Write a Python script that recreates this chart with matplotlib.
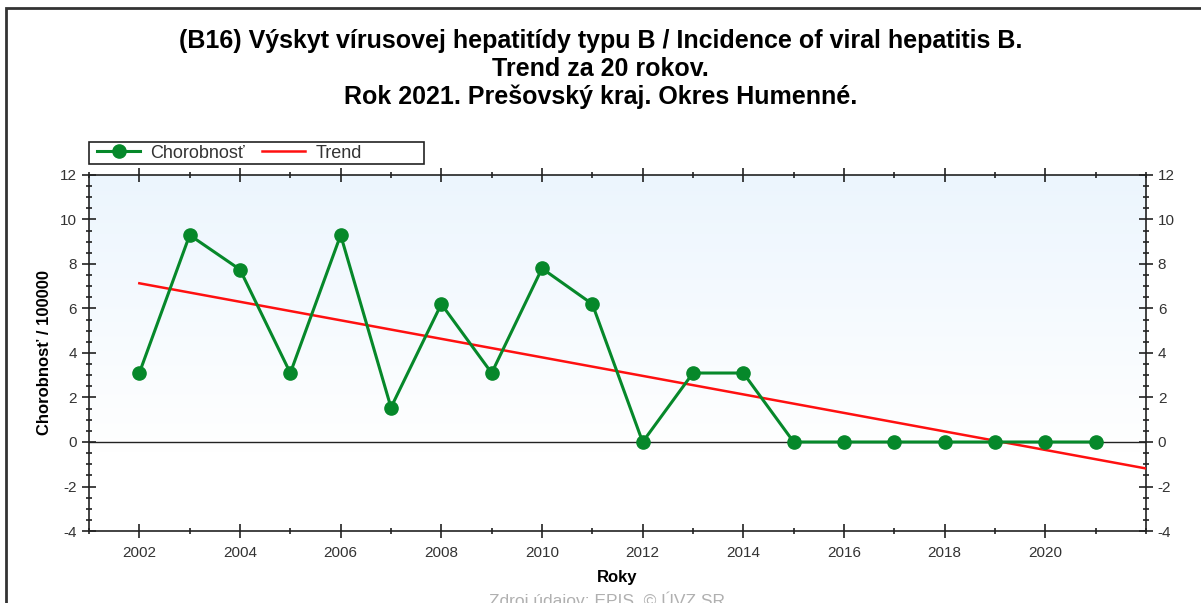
import numpy as np
import matplotlib
matplotlib.use("Agg")
import matplotlib.pyplot as plt
from matplotlib.ticker import MultipleLocator, FixedLocator
from matplotlib.patches import Rectangle

plt.rcParams['font.family'] = ['Liberation Sans', 'DejaVu Sans']
plt.rcParams['axes.unicode_minus'] = False

# data
years = [2002, 2003, 2004, 2005, 2006, 2007, 2008, 2009, 2010, 2011,
         2012, 2013, 2014, 2015, 2016, 2017, 2018, 2019, 2020, 2021]
incidence = [3.1, 9.3, 7.75, 3.1, 9.3, 1.55, 6.2, 3.1, 7.8, 6.2,
             0.0, 3.1, 3.1, 0.0, 0.0, 0.0, 0.0, 0.0, 0.0, 0.0]
trend_years = [2002, 2022]
xtick_years = [2002, 2004, 2006, 2008, 2010, 2012, 2014, 2016, 2018, 2020]

title = ("(B16) Výskyt vírusovej hepatitídy typu B / Incidence of viral hepatitis B.\n"
         "Trend za 20 rokov.\n"
         "Rok 2021. Prešovský kraj. Okres Humenné.")

W, H = 1201, 603
fig = plt.figure(figsize=(W / 100, H / 100), dpi=100)
ax = fig.add_axes([0.0741, 0.1194, 0.8801, 0.5904])

# outer frame
fig.patches.append(Rectangle((0.005, -0.05), 1.2, 1.036, transform=fig.transFigure,
                             fill=False, edgecolor='#333333', linewidth=2))

# background gradient (light blue at top fading to white)
grad = np.ones((256, 1, 4))
t = np.linspace(0, 1, 256)[:, None]
top = np.array([0.925, 0.962, 0.995])
frac = np.clip(t / 0.78, 0, 1)
grad[:, 0, :3] = top[None, :] * (1 - frac) + frac
ax.imshow(grad, extent=[2001, 2022, -4, 12], aspect='auto', zorder=0)

ax.set_xlim(2001, 2022)
ax.set_ylim(-4, 12)

ax.axhline(0, color='#222222', linewidth=1, zorder=1)

# trend (least squares fit of the data)
k, q = np.polyfit(years, incidence, 1)
ty = [k * x + q for x in trend_years]
ax.plot(trend_years, ty, color='#ff1010', linewidth=1.8, zorder=3, label='Trend')

ax.plot(years, incidence, color='#06882a', linewidth=2.2, marker='o', markersize=9.5,
        zorder=4, label='Chorobnosť', clip_on=False)

ax.xaxis.set_major_locator(FixedLocator(xtick_years))
ax.xaxis.set_minor_locator(MultipleLocator(1))
ax.yaxis.set_major_locator(MultipleLocator(2))
ax.yaxis.set_minor_locator(MultipleLocator(0.5))
ax.tick_params(which='major', direction='inout', length=10, width=1.2, colors='#222222',
               labelcolor='#333333', labelsize=11, top=True, right=True, labelright=True)
ax.tick_params(which='minor', direction='inout', length=5, width=1.2, colors='#222222',
               top=True, right=True)
ax.tick_params(axis='x', which='major', pad=6)

for s in ax.spines.values():
    s.set_color('#222222')
    s.set_linewidth(1.2)

ax.set_xlabel('Roky', fontsize=12, fontweight='bold', labelpad=7)
ax.set_ylabel('Chorobnosť / 100000', fontsize=12, fontweight='bold', labelpad=6)

fig.suptitle(title, fontsize=18, fontweight='bold', y=0.952, linespacing=1.2)

# legend: contents without frame, box drawn separately
handles, labels = ax.get_legend_handles_labels()
leg = ax.legend(handles[::-1], labels[::-1], ncol=2, loc='center left',
                bbox_to_anchor=(97 / W, 1 - 153 / H), bbox_transform=fig.transFigure,
                frameon=False, fontsize=13, borderpad=0, handlelength=2.4,
                columnspacing=0.95, handletextpad=0.55, borderaxespad=0)
for txt in leg.get_texts():
    txt.set_color('#333333')
fig.patches.append(Rectangle((89 / W, 1 - 164 / H), 335 / W, 22 / H,
                             transform=fig.transFigure, fill=False,
                             edgecolor='#222222', linewidth=1.2))

# source note, partly cut off at the bottom edge as in the original
fig.text(0.505, -0.01, 'Zdroj údajov: EPIS, © ÚVZ SR', ha='center', va='bottom',
         fontsize=12.5, color='#b0b0b0')

fig.savefig('out.png', dpi=100)
